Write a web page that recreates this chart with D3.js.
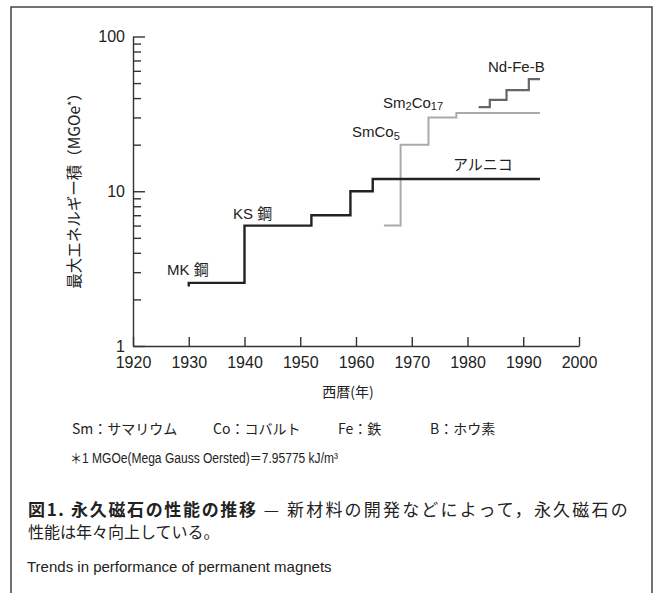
<!DOCTYPE html>
<html><head><meta charset="utf-8">
<script src="https://cdn.jsdelivr.net/npm/d3@7"></script>
<style>
html,body{margin:0;padding:0;background:#fff;}
svg{display:block;}
text{fill:#222;}
.sans{font-family:"Liberation Sans",Arial,"Noto Sans CJK JP",sans-serif;}
.cjk{font-family:"Noto Sans CJK JP","Liberation Sans",sans-serif;}
</style>
</head><body>
<script>
// ---- data ----
const xTicks = [1920,1930,1940,1950,1960,1970,1980,1990,2000];
const yMajor = [1,10,100];
const yMinor = [2,3,4,5,6,7,8,9,20,30,40,50,60,70,80,90];

const steelYears  = [1930,1930,1940,1952,1959,1963,1993];
const steelValues = [2.42,2.56,6,7,10,12,12];
const smcoYears   = [1965,1968,1973,1978,1993];
const smcoValues  = [6,20,30,32,32];
const ndfebYears  = [1982,1984,1987,1991,1993];
const ndfebValues = [35,39,45,53,53];

const legendItems = ["Sm：サマリウム","Co：コバルト","Fe：鉄","B：ホウ素"];

// ---- drawing ----
const W=659,H=593;
const svg=d3.select("body").append("svg").attr("width",W).attr("height",H);

svg.append("rect").attr("x",11).attr("y",7).attr("width",641).attr("height",620)
  .attr("fill","none").attr("stroke","#444").attr("stroke-width",1.5);

const x=d3.scaleLinear().domain([1920,2000]).range([133,579]);
const y=d3.scaleLog().domain([1,100]).range([346,36.5]);

// x axis
const gx=svg.append("g").attr("transform","translate(0,346)")
  .call(d3.axisBottom(x).tickValues(xTicks).tickFormat(d3.format("d")).tickSizeInner(-9).tickSizeOuter(0).tickPadding(11));
gx.selectAll("text").attr("class","sans").style("font-size","16px").attr("fill","#222");

// y axis major
const gy=svg.append("g").attr("transform","translate(133,0)")
  .call(d3.axisLeft(y).tickValues(yMajor).tickFormat(d3.format("d")).tickSizeInner(-12).tickSizeOuter(0).tickPadding(8));
gy.selectAll("text").attr("class","sans").style("font-size","16px").attr("fill","#222");
// y axis minor
const gy2=svg.append("g").attr("transform","translate(133,0)")
  .call(d3.axisLeft(y).tickValues(yMinor).tickFormat("").tickSizeInner(-8).tickSizeOuter(0));
gy2.select(".domain").remove();

svg.selectAll(".domain, .tick line").attr("stroke","#333").attr("stroke-width",1.4);
svg.selectAll(".tick text").attr("font-family",null);

// lines
const line=d3.line().x(d=>x(d[0])).y(d=>y(d[1])).curve(d3.curveStepAfter);
function drawSeries(ys,vs,color,w){
  svg.append("path").datum(ys.map((yy,i)=>[yy,vs[i]]))
    .attr("d",line).attr("fill","none").attr("stroke",color).attr("stroke-width",w);
}
drawSeries(smcoYears,smcoValues,"#aaaaaa",2);
drawSeries(steelYears,steelValues,"#222",2.4);
drawSeries(ndfebYears,ndfebValues,"#666",2.2);

// series labels
function label(tx,ty,parts){
  const t=svg.append("text").attr("class","sans").attr("x",tx).attr("y",ty).style("font-size","15px");
  parts.forEach(p=>{
    const s=t.append("tspan").text(p[0]);
    if(p[1]){s.style("font-size",p[2]||"11px").attr("dy",p[1]);}
  });
  return t;
}
svg.append("text").attr("class","sans").attr("x",167).attr("y",275).style("font-size","15px").text("MK 鋼");
svg.append("text").attr("class","sans").attr("x",233).attr("y",219).style("font-size","15px").text("KS 鋼");
svg.append("text").attr("class","cjk").attr("x",453).attr("y",170).style("font-size","15px").text("アルニコ");
label(352,137,[["SmCo"],["5",3]]);
label(383,108,[["Sm"],["2",2],["Co",-2,"15px"],["17",2]]);
svg.append("text").attr("class","sans").attr("x",488).attr("y",72).style("font-size","15px").text("Nd-Fe-B");

// axis titles
const yt=svg.append("text").attr("class","cjk").attr("transform","translate(80,187) rotate(-90)")
  .attr("text-anchor","middle").style("font-size","15.5px");
yt.append("tspan").text("最大エネルギー積（MGOe");
yt.append("tspan").text("*").style("font-size","11px").attr("dy",-4);
yt.append("tspan").text("）").attr("dy",4);

svg.append("text").attr("class","cjk").attr("x",348).attr("y",397).attr("text-anchor","middle")
  .style("font-size","14px").text("西暦(年)");

// legend
const legX=[72,213,338,430];
legendItems.forEach((s,i)=>{
  svg.append("text").attr("class","cjk").attr("x",legX[i]).attr("y",434).style("font-size","14px").text(s);
});
svg.append("text").attr("class","sans").attr("x",70).attr("y",463).style("font-size","14px")
  .attr("textLength",268).attr("lengthAdjust","spacingAndGlyphs")
  .text("＊1 MGOe(Mega Gauss Oersted)＝7.95775 kJ/m³");

// caption (one text block, two lines)
const c1=svg.append("text").attr("class","cjk").attr("x",28).attr("y",516).style("font-size","17px");
c1.append("tspan").text("図1.  永久磁石の性能の推移").style("font-weight","bold")
  .attr("textLength",228).attr("lengthAdjust","spacing");
c1.append("tspan").text(" — 新材料の開発などによって，永久磁石の")
  .attr("textLength",370).attr("lengthAdjust","spacing");
c1.append("tspan").attr("x",28).attr("dy",22).style("font-size","16px").text("性能は年々向上している。");
svg.append("text").attr("class","sans").attr("x",27).attr("y",572).style("font-size","15px")
  .text("Trends in performance of permanent magnets");
</script>
</body></html>
